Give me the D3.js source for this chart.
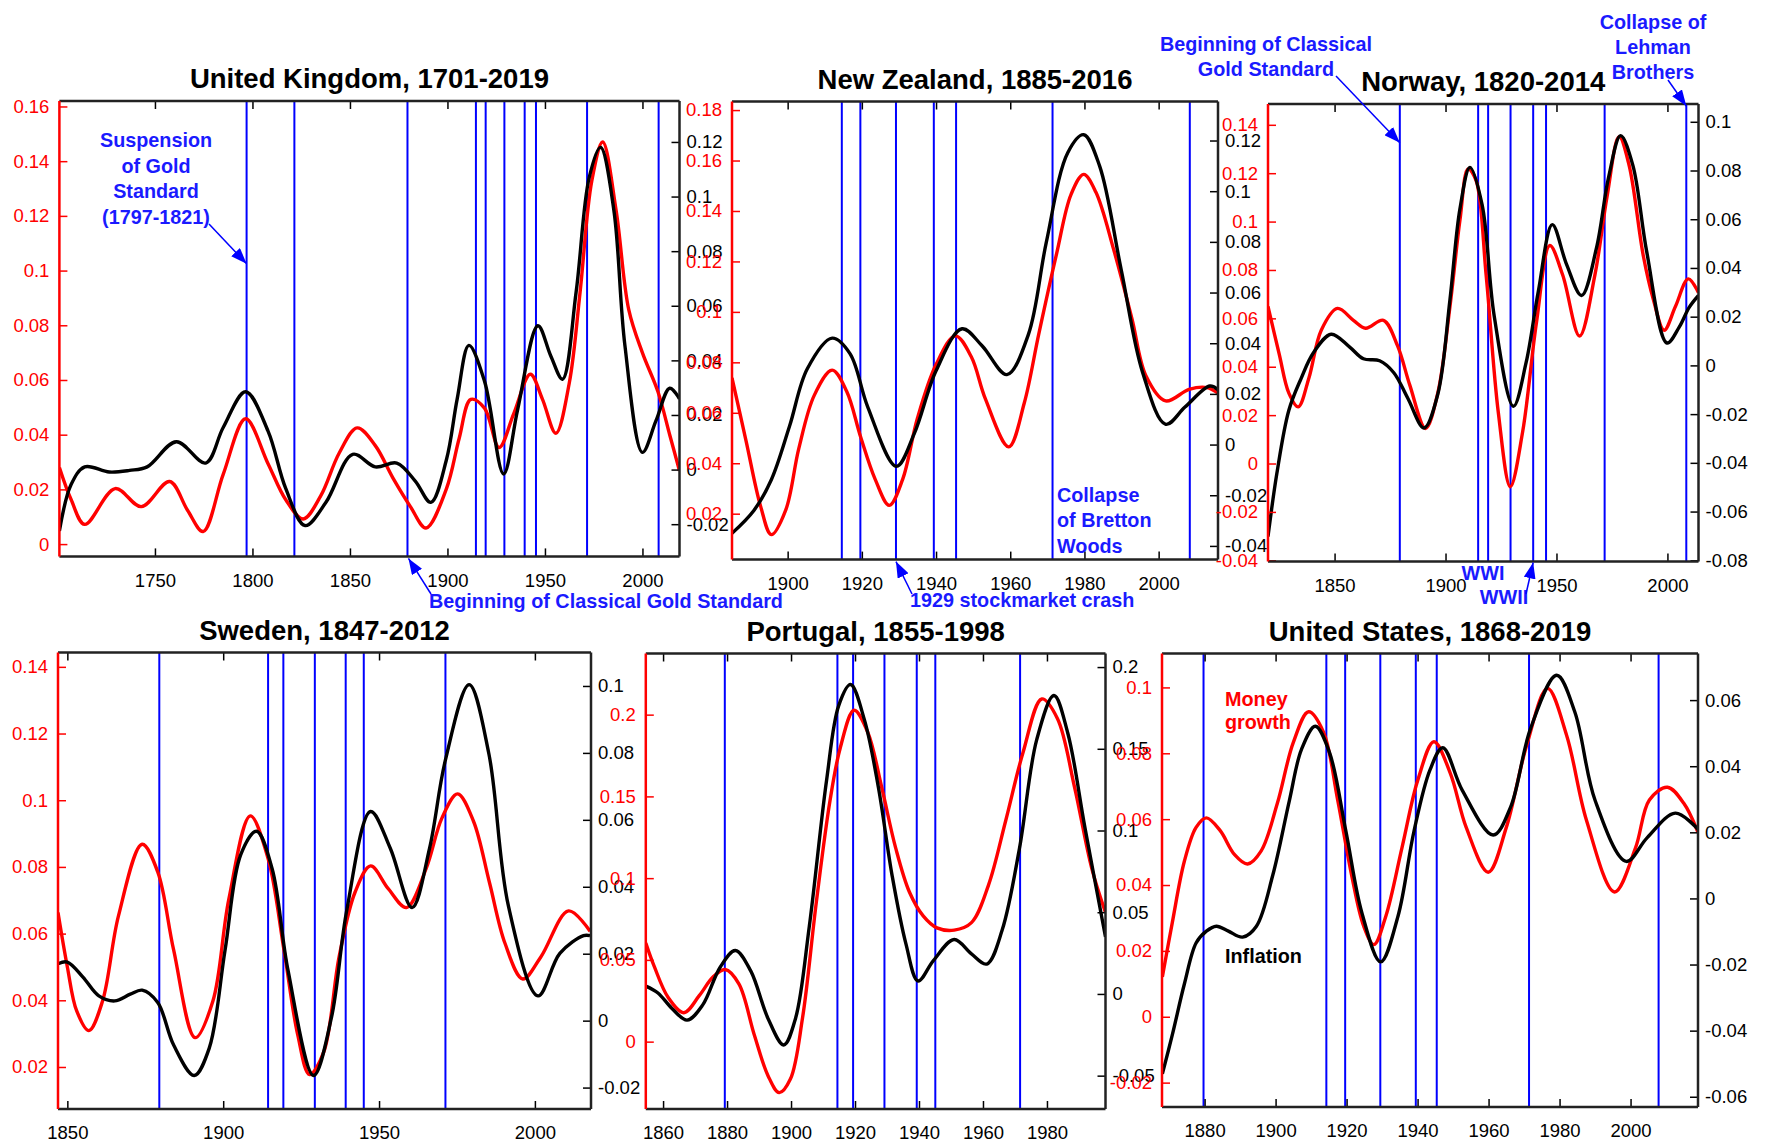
<!DOCTYPE html>
<html>
<head>
<meta charset="utf-8">
<script src="https://cdn.jsdelivr.net/npm/d3@7"></script>
<style>
  body { margin: 0; background: #fff; }
  svg { display: block; font-family: "Liberation Sans", Arial, sans-serif; }
</style>
</head>
<body>
<svg id="chart" width="1771" height="1143"></svg>
<script>
// ---- data: [year, value] ----
const ukMoney = [[1701,0.028],[1707,0.0163],[1714,0.0072],[1729.6,0.0203],[1743,0.0137],[1757.5,0.0229],[1766.7,0.0124],[1774.7,0.0046],[1785,0.0255],[1796.5,0.0458],[1808,0.0294],[1817,0.0163],[1826,0.0092],[1835,0.0176],[1844.5,0.0333],[1853.7,0.0425],[1863,0.036],[1872,0.0242],[1881,0.0137],[1889,0.0059],[1899.5,0.0203],[1906,0.0386],[1912,0.0529],[1919,0.0497],[1926.5,0.0353],[1934,0.0477],[1942.5,0.0621],[1948.7,0.053],[1955.6,0.0405],[1962.5,0.059],[1968,0.092],[1974,0.1327],[1979.6,0.147],[1986.5,0.122],[1993,0.0856],[2000,0.0699],[2008,0.0556],[2014,0.0399],[2019,0.0268]];
const ukInflation = [[1701,-0.0225],[1707,-0.0055],[1714,0.001],[1726.6,-0.0009],[1737,-0.0003],[1746,0.001],[1761,0.0102],[1776,0.0024],[1785,0.0154],[1796.5,0.0285],[1808,0.0141],[1817,-0.0068],[1827,-0.0205],[1837.7,-0.012],[1851.4,0.0056],[1863,0.001],[1874,0.0024],[1883.5,-0.0042],[1891.5,-0.012],[1899.5,0.0037],[1905,0.0259],[1911,0.0455],[1919,0.0324],[1928.8,-0.0016],[1936,0.022],[1946.4,0.0527],[1953,0.0416],[1959,0.0331],[1966,0.0651],[1972.7,0.107],[1978.5,0.118],[1985.3,0.0952],[1991,0.0455],[2000,0.0063],[2007,0.018],[2014,0.0298],[2019,0.0259]];

const nzMoney = [[1885,0.0738],[1888.8,0.0488],[1892.7,0.023],[1895.6,0.0117],[1899.5,0.0215],[1903,0.0458],[1907.2,0.067],[1912,0.0769],[1915.9,0.0685],[1919.7,0.0503],[1923.6,0.0336],[1927.4,0.0233],[1931,0.0336],[1935,0.0579],[1940,0.0791],[1945.2,0.0905],[1949.5,0.0822],[1953.3,0.0655],[1959.6,0.0465],[1963.8,0.064],[1967.7,0.0913],[1972.5,0.1231],[1976.4,0.1466],[1979.8,0.1545],[1983.1,0.1474],[1987.9,0.1246],[1992.8,0.0973],[1996.6,0.0746],[2001.9,0.0647],[2008.2,0.0693],[2013,0.07],[2016,0.0678]];
const nzInflation = [[1885,-0.035],[1890.9,-0.026],[1895.6,-0.0139],[1900.5,0.0072],[1905.3,0.0299],[1912,0.042],[1916.8,0.0359],[1921.6,0.0148],[1929.3,-0.0086],[1934.1,0.0042],[1940,0.0291],[1947,0.0457],[1952.4,0.039],[1959.1,0.0276],[1964.9,0.0435],[1969.7,0.0797],[1975.5,0.1152],[1979.8,0.1223],[1984.1,0.1099],[1989.9,0.0691],[1995.7,0.0284],[2001.9,0.008],[2007.1,0.0148],[2013.8,0.0231],[2016,0.0216]];

const norwayMoney = [[1820,0.0649],[1825,0.0454],[1829.4,0.0291],[1833.6,0.0234],[1838.5,0.0356],[1844,0.0551],[1851.3,0.0641],[1858.5,0.0592],[1864,0.0559],[1872,0.0592],[1878.4,0.0486],[1883.9,0.0324],[1891,0.0145],[1896.5,0.0291],[1902,0.0649],[1906.5,0.1006],[1910.2,0.1218],[1913.8,0.1169],[1918.3,0.0779],[1923.8,0.021],[1929.2,-0.0096],[1934.7,0.0128],[1941,0.0584],[1947,0.0901],[1952.8,0.0779],[1960.4,0.0527],[1967.3,0.0779],[1972.8,0.1104],[1978.2,0.1351],[1982.7,0.1234],[1989.1,0.086],[1993.6,0.068],[1998.5,0.0551],[2003.6,0.0649],[2009.4,0.0763],[2014,0.0706]];
const norwayInflation = [[1820,-0.0703],[1824,-0.0443],[1829.4,-0.0184],[1834.9,-0.0054],[1840.4,0.0051],[1848.5,0.0128],[1856.7,0.0076],[1863,0.0027],[1870.3,0.0019],[1876.7,-0.003],[1883,-0.0135],[1890.3,-0.0257],[1896.5,-0.0119],[1902,0.027],[1906.5,0.0643],[1911,0.0813],[1916.5,0.0659],[1921.9,0.0205],[1930.6,-0.0168],[1936.3,0.0011],[1941.8,0.0303],[1948.1,0.0578],[1954.5,0.0416],[1961.3,0.0287],[1968,0.0481],[1973.5,0.0773],[1978.9,0.0943],[1984.4,0.0822],[1990.7,0.0465],[1999.8,0.0092],[2005.3,0.0157],[2009.8,0.0238],[2014,0.0287]];

const swedenMoney = [[1847,0.0663],[1850,0.05],[1853,0.0368],[1856.9,0.0309],[1861.3,0.0398],[1866.4,0.0653],[1874,0.0868],[1879,0.0785],[1884.1,0.0551],[1891,0.0288],[1896.7,0.0398],[1901.8,0.0703],[1908.7,0.0953],[1914.4,0.0825],[1919.5,0.0551],[1923.9,0.0297],[1927.7,0.0177],[1932.3,0.0246],[1937.2,0.0531],[1942.3,0.0724],[1947.3,0.0803],[1953,0.0734],[1958.8,0.0678],[1965.1,0.0795],[1970.2,0.0947],[1975.2,0.1019],[1980.3,0.0937],[1985.4,0.0754],[1990.4,0.0571],[1996.1,0.0464],[2001.9,0.053],[2010.8,0.0668],[2017.7,0.0607]];
const swedenInflation = [[1847,0.017],[1850,0.0175],[1855,0.013],[1860.1,0.0074],[1865.2,0.0059],[1870.2,0.0079],[1874,0.0091],[1879,0.0054],[1884.1,-0.0073],[1890.7,-0.0164],[1895.5,-0.0083],[1900.6,0.0211],[1905.6,0.0495],[1910.7,0.0566],[1915.7,0.0454],[1920.8,0.015],[1929,-0.0164],[1934.7,0.0008],[1939.7,0.0333],[1947.3,0.0625],[1953.6,0.0515],[1960.6,0.0338],[1966.2,0.0515],[1971.3,0.0779],[1978.9,0.1004],[1985.2,0.0799],[1991.5,0.0343],[2001,0.0074],[2008,0.0201],[2015.6,0.0254],[2017.7,0.0254]];

const portugalMoney = [[1854.6,0.0603],[1857.3,0.0457],[1861.6,0.027],[1866.5,0.0177],[1871.3,0.0281],[1875.6,0.0395],[1879.4,0.0441],[1883.7,0.0353],[1888.5,0.0042],[1892.8,-0.0208],[1896.3,-0.0312],[1899.8,-0.0229],[1903.6,0.0146],[1907.9,0.0852],[1912.2,0.1476],[1915.4,0.1798],[1919.7,0.2027],[1924,0.1892],[1928.3,0.1559],[1932.7,0.1185],[1937,0.0915],[1941.3,0.0769],[1945.6,0.0696],[1951,0.0682],[1956.4,0.0728],[1961.7,0.0956],[1967.1,0.1351],[1972.5,0.1767],[1978.4,0.2096],[1983.3,0.1975],[1988.6,0.1559],[1994,0.106],[1998.3,0.079]];
const portugalInflation = [[1854.6,0.0048],[1858.4,0.0006],[1862.7,-0.0087],[1867.5,-0.016],[1872.4,-0.0067],[1877.8,0.0162],[1882.6,0.0266],[1887.4,0.0141],[1892.8,-0.015],[1897.7,-0.0312],[1901.4,-0.015],[1905.7,0.0412],[1911.1,0.1306],[1914.9,0.1764],[1918.6,0.1893],[1922.9,0.168],[1927.3,0.1265],[1931.6,0.0724],[1935.9,0.0308],[1939.7,0.0079],[1944.5,0.0204],[1951,0.0333],[1956.4,0.0245],[1961.2,0.0183],[1966,0.0391],[1971.4,0.089],[1976.8,0.1556],[1982.2,0.1826],[1986.5,0.1597],[1991.9,0.1015],[1998.3,0.0349]];

const usMoney = [[1868.1,0.0121],[1870.9,0.0286],[1874.3,0.0472],[1877.6,0.0575],[1880.5,0.0604],[1884.4,0.0565],[1888.4,0.0493],[1892.1,0.0464],[1895.9,0.0503],[1900.5,0.0648],[1905,0.0833],[1909.3,0.0926],[1913.5,0.0864],[1917.5,0.0658],[1921.4,0.0431],[1924.8,0.0276],[1927.7,0.0219],[1931.1,0.0307],[1935.6,0.0513],[1940.1,0.072],[1944.6,0.0835],[1949.2,0.074],[1953.7,0.0575],[1959.9,0.0439],[1965,0.0575],[1970.7,0.0823],[1976.6,0.0997],[1982,0.0854],[1987.6,0.0596],[1995.5,0.0379],[2001.4,0.0513],[2005.3,0.0658],[2010.4,0.0697],[2015,0.0648],[2019,0.056]];
const usInflation = [[1868.1,-0.0531],[1870.9,-0.0413],[1874.3,-0.0259],[1877.6,-0.0135],[1880.5,-0.0099],[1883.3,-0.0084],[1886.7,-0.0099],[1890.7,-0.0117],[1894.6,-0.0084],[1899.2,0.007],[1903.9,0.0297],[1907.3,0.0451],[1911.2,0.0521],[1915.2,0.0441],[1919.8,0.0204],[1924.3,-0.0043],[1929.6,-0.0192],[1934.5,-0.0053],[1939,0.0204],[1943.5,0.0389],[1947.1,0.0456],[1952.6,0.0327],[1961.3,0.0192],[1966.2,0.0276],[1971.8,0.0513],[1979.2,0.0675],[1984.3,0.0564],[1990,0.0297],[1998.8,0.0112],[2004.7,0.0184],[2012.6,0.0258],[2019,0.0209]];

// event years (blue vertical lines), as placed in the reference
const ukEvents = [1797, 1821.5, 1879.5, 1914.6, 1919.6, 1929.2, 1939.6, 1945.4, 1971.6, 2008.3];
const nzEvents = [1914.6, 1919.6, 1929.2, 1939.4, 1945.4, 1971.4, 2008.4];
const norwayEvents = [1879.4, 1914.7, 1919.2, 1929.3, 1939.5, 1945.3, 1971.7, 2008.5];
const swedenEvents = [1879.5, 1914.4, 1919.3, 1929.4, 1939.3, 1945.1, 1971.3];
const portugalEvents = [1879.3, 1914.5, 1919.4, 1929.2, 1939.3, 1945.1, 1971.6];
const usEvents = [1879.7, 1914.3, 1919.6, 1929.5, 1939.5, 1945.4, 1971.4, 2007.9];

// tick values
const ukYearTicks = [1750, 1800, 1850, 1900, 1950, 2000];
const nzYearTicks = [1900, 1920, 1940, 1960, 1980, 2000];
const norwayYearTicks = [1850, 1900, 1950, 2000];
const swedenYearTicks = [1850, 1900, 1950, 2000];
const portugalYearTicks = [1860, 1880, 1900, 1920, 1940, 1960, 1980];
const usYearTicks = [1880, 1900, 1920, 1940, 1960, 1980, 2000];

const ukMoneyTicks = [0, 0.02, 0.04, 0.06, 0.08, 0.1, 0.12, 0.14, 0.16];
const ukInflTicks = [-0.02, 0, 0.02, 0.04, 0.06, 0.08, 0.1, 0.12];
const nzMoneyTicks = [0.02, 0.04, 0.06, 0.08, 0.1, 0.12, 0.14, 0.16, 0.18];
const nzInflTicks = [-0.04, -0.02, 0, 0.02, 0.04, 0.06, 0.08, 0.1, 0.12];
const norwayMoneyTicks = [-0.04, -0.02, 0, 0.02, 0.04, 0.06, 0.08, 0.1, 0.12, 0.14];
const norwayInflTicks = [-0.08, -0.06, -0.04, -0.02, 0, 0.02, 0.04, 0.06, 0.08, 0.1];
const swedenMoneyTicks = [0.02, 0.04, 0.06, 0.08, 0.1, 0.12, 0.14];
const swedenInflTicks = [-0.02, 0, 0.02, 0.04, 0.06, 0.08, 0.1];
const portugalMoneyTicks = [0, 0.05, 0.1, 0.15, 0.2];
const portugalInflTicks = [-0.05, 0, 0.05, 0.1, 0.15, 0.2];
const usMoneyTicks = [-0.02, 0, 0.02, 0.04, 0.06, 0.08, 0.1];
const usInflTicks = [-0.06, -0.04, -0.02, 0, 0.02, 0.04, 0.06];

// ---- layout ----
const RED = '#ff0000', BLUE = '#0000ff', NOTE = '#1a1aff';
const TICK_FONT = 18.5, TITLE_FONT = 27.5, NOTE_FONT = 19.8;

const panels = [
  {title: 'United Kingdom, 1701-2019', box: [59.4, 679.5, 101, 556.4], years: [1701, 2019],
   moneyDom: [-0.0045, 0.162], inflDom: [-0.0318, 0.135],
   money: ukMoney, infl: ukInflation, events: ukEvents,
   xTicks: ukYearTicks, moneyTicks: ukMoneyTicks, inflTicks: ukInflTicks},
  {title: 'New Zealand, 1885-2016', box: [732, 1218, 101.5, 559.6], years: [1885, 2016],
   moneyDom: [0.0018, 0.1834], inflDom: [-0.0454, 0.1354],
   money: nzMoney, infl: nzInflation, events: nzEvents,
   xTicks: nzYearTicks, moneyTicks: nzMoneyTicks, inflTicks: nzInflTicks},
  {title: 'Norway, 1820-2014', box: [1268, 1698.5, 104, 561.5], years: [1820, 2014],
   moneyDom: [-0.0405, 0.1486], inflDom: [-0.0805, 0.1073],
   money: norwayMoney, infl: norwayInflation, events: norwayEvents,
   xTicks: norwayYearTicks, moneyTicks: norwayMoneyTicks, inflTicks: norwayInflTicks},
  {title: 'Sweden, 1847-2012', box: [58, 591, 652.5, 1109], years: [1847, 2018],
   moneyDom: [0.0074, 0.1443], inflDom: [-0.0264, 0.110],
   money: swedenMoney, infl: swedenInflation, events: swedenEvents,
   xTicks: swedenYearTicks, moneyTicks: swedenMoneyTicks, inflTicks: swedenInflTicks},
  {title: 'Portugal, 1855-1998', box: [645.8, 1105.5, 653.5, 1109], years: [1854.6, 1998.3],
   moneyDom: [-0.0412, 0.2374], inflDom: [-0.0704, 0.2083],
   money: portugalMoney, infl: portugalInflation, events: portugalEvents,
   xTicks: portugalYearTicks, moneyTicks: portugalMoneyTicks, inflTicks: portugalInflTicks},
  {title: 'United States, 1868-2019', box: [1162, 1698, 653.5, 1107], years: [1868, 2019],
   moneyDom: [-0.0274, 0.1103], inflDom: [-0.0631, 0.0741],
   money: usMoney, infl: usInflation, events: usEvents,
   xTicks: usYearTicks, moneyTicks: usMoneyTicks, inflTicks: usInflTicks}
];

const svg = d3.select('#chart');
svg.append('rect').attr('width', 1771).attr('height', 1143).attr('fill', '#fff');
const defs = svg.append('defs');

defs.append('marker')
  .attr('id', 'arrowhead')
  .attr('viewBox', '0 0 16 12')
  .attr('refX', 16).attr('refY', 6)
  .attr('markerWidth', 16).attr('markerHeight', 12)
  .attr('markerUnits', 'userSpaceOnUse')
  .attr('orient', 'auto')
  .append('path').attr('d', 'M0,0 L16,6 L0,12 Z').attr('fill', BLUE);

const fmt = v => String(+v.toFixed(3));

function styleAxis(g, color) {
  g.select('.domain').remove();
  g.selectAll('line').attr('stroke', color).attr('stroke-width', 1.5);
  g.selectAll('text')
    .attr('fill', color)
    .attr('font-size', TICK_FONT)
    .attr('font-family', '"Liberation Sans", Arial, sans-serif');
}

panels.forEach((p, i) => {
  const [x0, x1, y0, y1] = p.box;
  const x = d3.scaleLinear().domain(p.years).range([x0, x1]);
  const yM = d3.scaleLinear().domain(p.moneyDom).range([y1, y0]);
  const yI = d3.scaleLinear().domain(p.inflDom).range([y1, y0]);
  p.x = x; p.yM = yM; p.yI = yI;

  const g = svg.append('g').attr('class', 'panel');
  const clipId = 'clip' + i;
  defs.append('clipPath').attr('id', clipId)
    .append('rect').attr('x', x0).attr('y', y0).attr('width', x1 - x0).attr('height', y1 - y0);

  // title
  g.append('text')
    .attr('x', (x0 + x1) / 2).attr('y', y0 - 13)
    .attr('text-anchor', 'middle')
    .attr('font-size', TITLE_FONT).attr('font-weight', 'bold')
    .text(p.title);

  // event lines
  g.append('g').selectAll('line').data(p.events).join('line')
    .attr('x1', d => x(d)).attr('x2', d => x(d))
    .attr('y1', y0).attr('y2', y1)
    .attr('stroke', BLUE).attr('stroke-width', 2);

  const lineOf = ys => d3.line()
    .x(d => x(d[0])).y(d => ys(d[1]))
    .curve(d3.curveCatmullRom.alpha(0.5));

  g.append('path').datum(p.money)
    .attr('d', lineOf(yM))
    .attr('fill', 'none').attr('stroke', RED).attr('stroke-width', 3.4)
    .attr('clip-path', `url(#${clipId})`);

  g.append('path').datum(p.infl)
    .attr('d', lineOf(yI))
    .attr('fill', 'none').attr('stroke', '#000').attr('stroke-width', 3.4)
    .attr('clip-path', `url(#${clipId})`);

  // axes
  g.append('g').attr('transform', `translate(0,${y1})`)
    .call(d3.axisBottom(x).tickValues(p.xTicks).tickFormat(d3.format('d')).tickSize(-8).tickPadding(17))
    .call(a => styleAxis(a, '#000'));
  g.append('g').attr('transform', `translate(0,${y0})`)
    .call(d3.axisTop(x).tickValues(p.xTicks).tickFormat('').tickSize(-8))
    .call(a => styleAxis(a, '#000'));
  g.append('g').attr('transform', `translate(${x0},0)`)
    .call(d3.axisLeft(yM).tickValues(p.moneyTicks).tickFormat(fmt).tickSize(-8).tickPadding(10))
    .call(a => styleAxis(a, RED));
  g.append('g').attr('transform', `translate(${x1},0)`)
    .call(d3.axisRight(yI).tickValues(p.inflTicks).tickFormat(fmt).tickSize(-8).tickPadding(7))
    .call(a => styleAxis(a, '#000'));

  // frame: red left spine, black elsewhere
  const frame = g.append('g').attr('stroke-width', 2.5).attr('fill', 'none');
  frame.append('line').attr('x1', x0).attr('x2', x1).attr('y1', y0).attr('y2', y0).attr('stroke', '#222');
  frame.append('line').attr('x1', x0).attr('x2', x1).attr('y1', y1).attr('y2', y1).attr('stroke', '#222');
  frame.append('line').attr('x1', x1).attr('x2', x1).attr('y1', y0).attr('y2', y1).attr('stroke', '#222');
  frame.append('line').attr('x1', x0).attr('x2', x0).attr('y1', y0).attr('y2', y1).attr('stroke', RED);
});

// ---- annotations ----
const [uk, nz, norway, , , us] = panels;
const notes = svg.append('g')
  .attr('font-size', NOTE_FONT).attr('font-weight', 'bold');

function note(lines, x, y, anchor, color, step) {
  const t = notes.append('text').attr('text-anchor', anchor).attr('fill', color || NOTE);
  lines.forEach((s, k) => t.append('tspan').attr('x', x).attr('y', y + k * (step || 25.5)).text(s));
}
function arrow(xa, ya, xb, yb) {
  notes.append('line')
    .attr('x1', xa).attr('y1', ya).attr('x2', xb).attr('y2', yb)
    .attr('stroke', BLUE).attr('stroke-width', 1.5)
    .attr('marker-end', 'url(#arrowhead)');
}

note(['Suspension', 'of Gold', 'Standard', '(1797-1821)'], 156, 147, 'middle');
arrow(209, 224, uk.x(1797), uk.yM(0.1025));

note(['Beginning of Classical Gold Standard'], 429, 608, 'start');
arrow(431, 594, uk.x(1879.5) + 1, uk.box[3] + 2);

note(['1929 stockmarket crash'], 910, 607, 'start');
arrow(912, 594, nz.x(1929.2), nz.box[3] + 2);

note(['Collapse', 'of Bretton', 'Woods'], 1057, 501.5, 'start');

note(['Beginning of Classical', 'Gold Standard'], 1266, 50.5, 'middle', null, 25);
arrow(1336, 76, norway.x(1879.4), norway.yM(0.1326));

note(['Collapse of', 'Lehman', 'Brothers'], 1653, 28.7, 'middle', null, 25.3);
arrow(1668, 80, norway.x(2008.5), norway.box[2] + 2);

note(['WWI'], 1483, 580, 'middle');
note(['WWII'], 1504, 604, 'middle');
arrow(1526, 594, norway.x(1939.5), norway.box[3] + 1);

note(['Money', 'growth'], 1225, 706, 'start', RED, 23);
note(['Inflation'], 1225, 963, 'start', '#000');
</script>
</body>
</html>
